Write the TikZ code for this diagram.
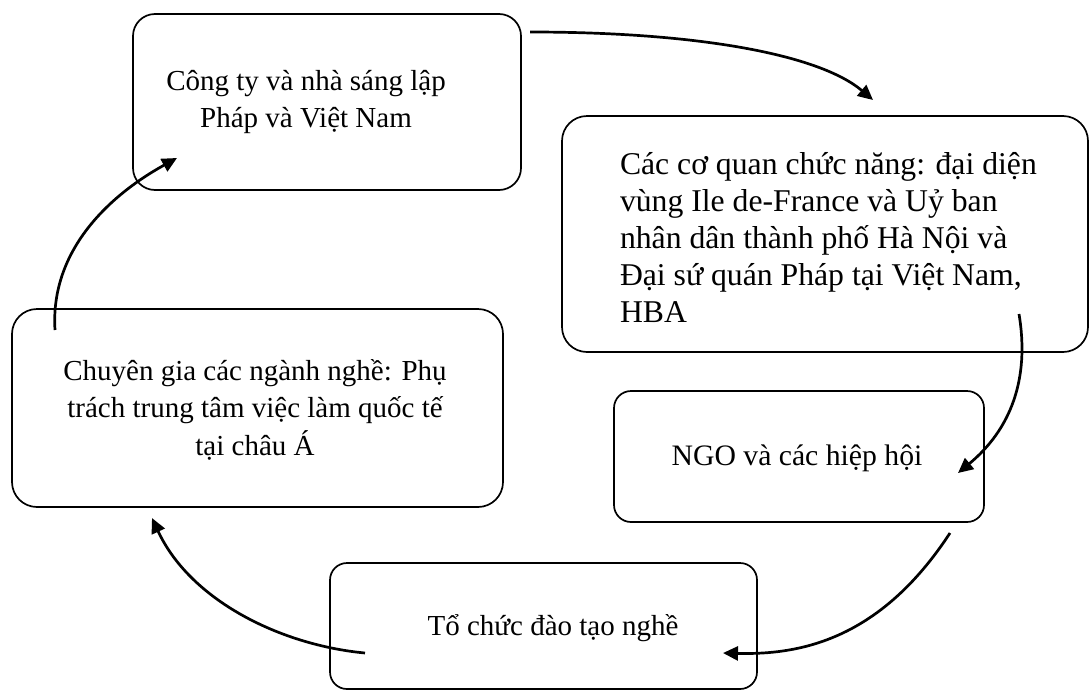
\documentclass[tikz,border=0pt]{standalone}
\usepackage{fontspec}
\setmainfont{Liberation Serif}
\usetikzlibrary{arrows.meta}
\begin{document}
\begin{tikzpicture}[x=1pt,y=-1pt,
  box/.style={draw, line width=1.7pt, rounded corners=#1, inner sep=0pt, rectangle},
  txt/.style={font=\fontsize{29}{37.5}\selectfont, inner sep=0pt, outer sep=0pt},
  bigtxt/.style={font=\fontsize{31.7}{37.2}\selectfont, inner sep=0pt, outer sep=0pt},
  conn/.style={line width=2.7pt, -{Triangle[length=15pt,width=14pt]}}]
\useasboundingbox (0,0) rectangle (1091,691);
% boxes
\node[box=22pt, minimum width=388pt, minimum height=176pt] (b1) at (327,102) {};
\node[box=25pt, minimum width=526pt, minimum height=236pt] (b2) at (825,234) {};
\node[box=25pt, minimum width=491pt, minimum height=198pt] (b3) at (257.5,408) {};
\node[box=17pt, minimum width=370pt, minimum height=131pt] (b4) at (799,456.5) {};
\node[box=17pt, minimum width=427pt, minimum height=126pt] (b5) at (543.5,626) {};
% texts
\node[txt, align=center, anchor=north] (t1) at (306,60)
  {\rule{0pt}{30pt}Công ty và nhà sáng lập\\Pháp và Việt Nam};
\node[bigtxt, align=left, anchor=north west] (t2) at (620,139)
  {\rule{0pt}{35pt}Các cơ quan chức năng: đại diện\\vùng Ile de-France và Uỷ ban\\nhân dân thành phố Hà Nội và\\Đại sứ quán Pháp tại Việt Nam,\\HBA};
\node[txt, align=center, anchor=north] (t3) at (255,350)
  {\rule{0pt}{30pt}Chuyên gia các ngành nghề: Phụ\\trách trung tâm việc làm quốc tế\\tại châu Á};
\node[txt, anchor=base, font=\fontsize{29.7}{37.5}\selectfont] (t4) at (797,465) {NGO và các hiệp hội};
\node[txt, anchor=base] (t5) at (553,635) {Tổ chức đào tạo nghề};
% connector ends
\coordinate (a1s) at (530,32);
\coordinate (a1e) at (873,100);
\coordinate (a2s) at (1019,314);
\coordinate (a2e) at (958,473);
\coordinate (a3s) at (950,533);
\coordinate (a3e) at (723,653);
\coordinate (a4s) at (365,653);
\coordinate (a4e) at (152,518);
\coordinate (a5s) at (55,330);
\coordinate (a5e) at (177,158);
% connectors
\draw[conn] (a1s) .. controls (700,32) and (820,55) .. (a1e);
\draw[conn] (a2s) .. controls (1030,380) and (1010,430) .. (a2e);
\draw[conn] (a3s) .. controls (880,640) and (800,655) .. (a3e);
\draw[conn] (a4s) .. controls (280,645) and (190,600) .. (a4e);
\draw[conn] (a5s) .. controls (50,250) and (110,195) .. (a5e);
\end{tikzpicture}
\end{document}
